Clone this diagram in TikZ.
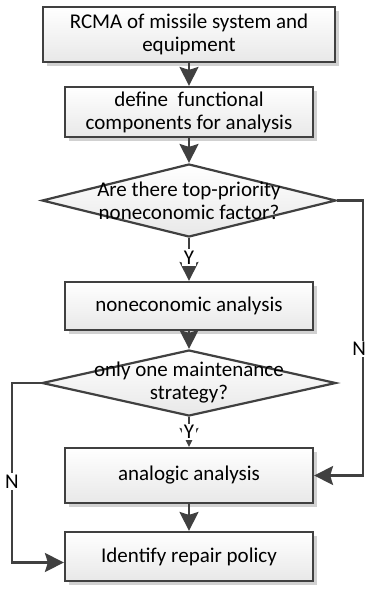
\documentclass[tikz,border=0pt]{standalone}
\usepackage{fontspec}
\setmainfont{Carlito}
\usetikzlibrary{arrows.meta,shapes.geometric,shadows}
\definecolor{linegray}{HTML}{404040}

\begin{document}
\begin{tikzpicture}[x=1pt, y=-1pt,
    font=\fontsize{21}{23}\selectfont,
    process/.style={draw=linegray, line width=2.2pt, rectangle, top color=white, bottom color=black!9,
        drop shadow={shadow xshift=4pt, shadow yshift=-4pt, fill=black!18, opacity=1},
        align=center, inner sep=0pt},
    decision/.style={draw=linegray, line width=2.2pt, diamond, top color=white, bottom color=black!9,
        inner sep=0pt, minimum width=294pt},
    flow/.style={draw=linegray, line width=2.2pt, -{Stealth[length=19pt,width=19pt,inset=3pt]}},
    answer/.style={fill=white, inner sep=1.5pt}]
    \useasboundingbox (0,0) rectangle (365,592);
    % Nodes
    \node [process, minimum width=292pt, minimum height=55pt] (rcma) at (189,34.5) {RCMA of missile system and\\equipment};
    \node [process, minimum width=248pt, minimum height=50pt] (define) at (189,112) {define\ \ functional\\components for analysis};
    \node [decision, minimum height=73pt] (priority) at (189,200.5) {};
    \node [align=center] (prioritytext) at (priority.center) {Are there top-priority\\noneconomic factor?};
    \node [process, minimum width=248pt, minimum height=48pt] (noneco) at (189,306) {noneconomic analysis};
    \node [decision, minimum height=66pt] (single) at (189,383) {};
    \node [align=center] (singletext) at (single.center) {only one maintenance\\strategy?};
    \node [process, minimum width=248pt, minimum height=55pt] (analogic) at (189,475.5) {analogic analysis};
    \node [process, minimum width=248pt, minimum height=49pt] (repair) at (189,556.5) {Identify repair policy};

    % Arrows
    \draw [flow] (rcma) -- (define);
    \draw [flow] (define) -- (priority);
    \draw [flow] (priority) -- node[answer, pos=0.45] {Y} (noneco);
    \draw [flow] (noneco) -- (single);
    \draw [flow] (single) -- node[answer, pos=0.5] {Y} (analogic);
    \draw [flow] (analogic) -- (repair);
    \draw [flow] (priority.east) -- ++(26,0) |- node[answer, pos=0.27, xshift=-4pt] {N} (analogic.east);
    \draw [flow] (single.west) -- ++(-29,0) |- node[answer, pos=0.275] {N} ([yshift=-6pt]repair.west);
\end{tikzpicture}
\end{document}
